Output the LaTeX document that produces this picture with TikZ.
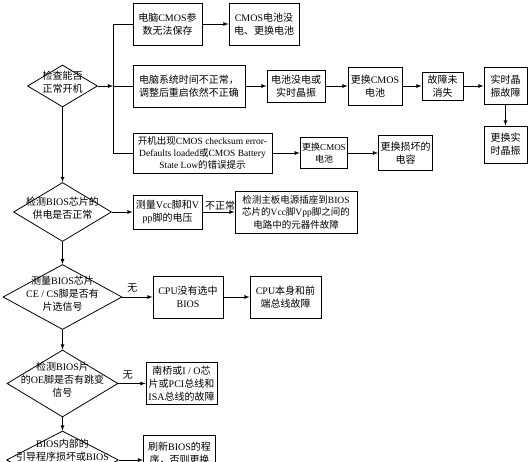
\documentclass[tikz,border=0pt]{standalone}
\usepackage{fontspec}
\setmainfont{Liberation Serif}
\newfontfamily\cjk{Noto Sans CJK SC}
\usetikzlibrary{shapes.geometric}

% 汉字自动换用CJK字体
\XeTeXinterchartokenstate=1
\newXeTeXintercharclass\cjkcls
\newcount\cjkidx
\cjkidx="3000
\loop \XeTeXcharclass\cjkidx=\cjkcls \advance\cjkidx by 1 \ifnum\cjkidx<"A000 \repeat
\cjkidx="FF00
\loop \XeTeXcharclass\cjkidx=\cjkcls \advance\cjkidx by 1 \ifnum\cjkidx<"FFF0 \repeat
\XeTeXinterchartoks 0 \cjkcls = {\cjk}
\XeTeXinterchartoks 4095 \cjkcls = {\cjk}
\XeTeXinterchartoks \cjkcls 0 = {\rmfamily}

\tikzset{
  box/.style={draw, line width=0.9pt, align=center, inner sep=2pt, font=\fontsize{10}{13}\selectfont},
  cond/.style={draw, diamond, line width=0.8pt, inner sep=0pt, font=\fontsize{10}{13}\selectfont},
  lbl/.style={font=\fontsize{10}{13}\selectfont, inner sep=1pt},
}
\newcommand{\dtext}[1]{\makebox[0pt]{\smash{\begin{tabular}{@{}c@{}}#1\end{tabular}}}}

\begin{document}
\begin{tikzpicture}[>=latex, x=1pt, y=-1pt, line width=0.8pt]
    \useasboundingbox (0,0) rectangle (531,462);
    \clip (0,0) rectangle (531,462);

    % 检查能否正常开机
    \node[cond, minimum width=70pt, minimum height=42pt] (a1) at (62.5,86) {\dtext{检查能否\\正常开机}};
    \coordinate (j1) at (113,86);
    \node[box, minimum width=69pt, minimum height=42pt] (b1) at (167.5,24) {电脑CMOS参\\数无法保存};
    \node[box, minimum width=70pt, minimum height=42pt] (b2) at (264,24) {CMOS电池没\\电、更换电池};
    \node[box, minimum width=112pt, minimum height=42pt] (c1) at (189,86) {电脑系统时间不正常，\\调整后重启依然不正确};
    \node[box, minimum width=58pt, minimum height=32pt] (c2) at (296,86) {电池没电或\\实时晶振};
    \node[box, minimum width=54pt, minimum height=38pt] (c3) at (375,86) {更换CMOS\\电池};
    \node[box, minimum width=41pt, minimum height=28pt] (c4) at (442.5,86) {故障未\\消失};
    \node[box, minimum width=43pt, minimum height=37pt] (c5) at (505.5,86) {实时晶\\振故障};
    \node[box, minimum width=43pt, minimum height=37pt] (c6) at (505.5,144.5) {更换实\\时晶振};
    \node[box, minimum width=139pt, minimum height=40pt, font=\fontsize{9.5}{12}\selectfont] (d1) at (202.5,153)
        {开机出现CMOS checksum error-\\Defaults loaded或CMOS Battery\\State Low的错误提示};
    \node[box, minimum width=44pt, minimum height=31pt, font=\fontsize{9}{12}\selectfont] (d2) at (324,153) {更换CMOS\\电池};
    \node[box, minimum width=53pt, minimum height=35pt] (d3) at (405.5,153) {更换损坏的\\电容};

    \draw[->] (a1) -- (j1);
    \draw (j1) |- (b1.west);
    \draw (j1) -- (c1);
    \draw (j1) |- (d1.west);
    \draw[->] (b1) -- (b2);
    \draw[->] (c1) -- (c2);
    \draw[->] (c2) -- (c3);
    \draw[->] (c3) -- (c4);
    \draw[->] (c4) -- (c5);
    \draw[->] (c5) -- (c6);
    \draw[->] (d1) -- (d2);
    \draw[->] (d2) -- (d3);

    % 检测BIOS芯片的供电
    \node[cond, minimum width=98pt, minimum height=59pt] (e1) at (62.5,212) {\dtext{检测BIOS芯片的\\供电是否正常}};
    \node[box, minimum width=69pt, minimum height=34pt] (e2) at (167.5,212) {测量Vcc脚和V\\pp脚的电压};
    \node[box, minimum width=122pt, minimum height=42pt, font=\fontsize{9.5}{12.5}\selectfont] (e3) at (296,212)
        {检测主板电源插座到BIOS\\芯片的Vcc脚Vpp脚之间的\\电路中的元器件故障};
    \draw[->] (a1) -- (e1);
    \draw[->] (e1) -- (e2);
    \draw[->] (e2) -- node[lbl, above, xshift=1.5pt] {不正常} (e3);

    % 片选信号
    \node[cond, minimum width=119pt, minimum height=65pt] (f1) at (62.5,297) {\dtext{测量BIOS芯片\\CE / CS脚是否有\\片选信号}};
    \node[box, minimum width=70pt, minimum height=42pt] (f2) at (188,297) {CPU没有选中\\BIOS};
    \node[box, minimum width=71pt, minimum height=42pt] (f3) at (285.5,297) {CPU本身和前\\端总线故障};
    \draw[->] (e1) -- (f1);
    \draw[->] (f1) -- node[lbl, above=3pt, xshift=-5pt] {无} (f2);
    \draw[->] (f2) -- (f3);

    % OE脚跳变信号
    \node[cond, minimum width=111pt, minimum height=67pt] (g1) at (62.5,383.5) {\dtext{检测BIOS片\\的OE脚是否有跳变\\信号}};
    \node[box, minimum width=71pt, minimum height=42pt] (g2) at (181.5,383.5) {南桥或I / O芯\\片或PCI总线和\\ISA总线的故障};
    \draw[->] (f1) -- (g1);
    \draw[->] (g1) -- node[lbl, above=3pt, xshift=-4pt] {无} (g2);

    % 引导程序
    \node[cond, minimum width=112pt, minimum height=58pt] (h1) at (62.5,460) {\dtext{BIOS内部的\\引导程序损坏或BIOS\\芯片损坏}};
    \node[box, minimum width=72pt, minimum height=50pt] (h2) at (179.5,460) {刷新BIOS的程\\序，否则更换\\BIOS芯片};
    \draw[->] (g1) -- (h1);
    \draw[->] (h1) -- (h2);
\end{tikzpicture}
\end{document}
